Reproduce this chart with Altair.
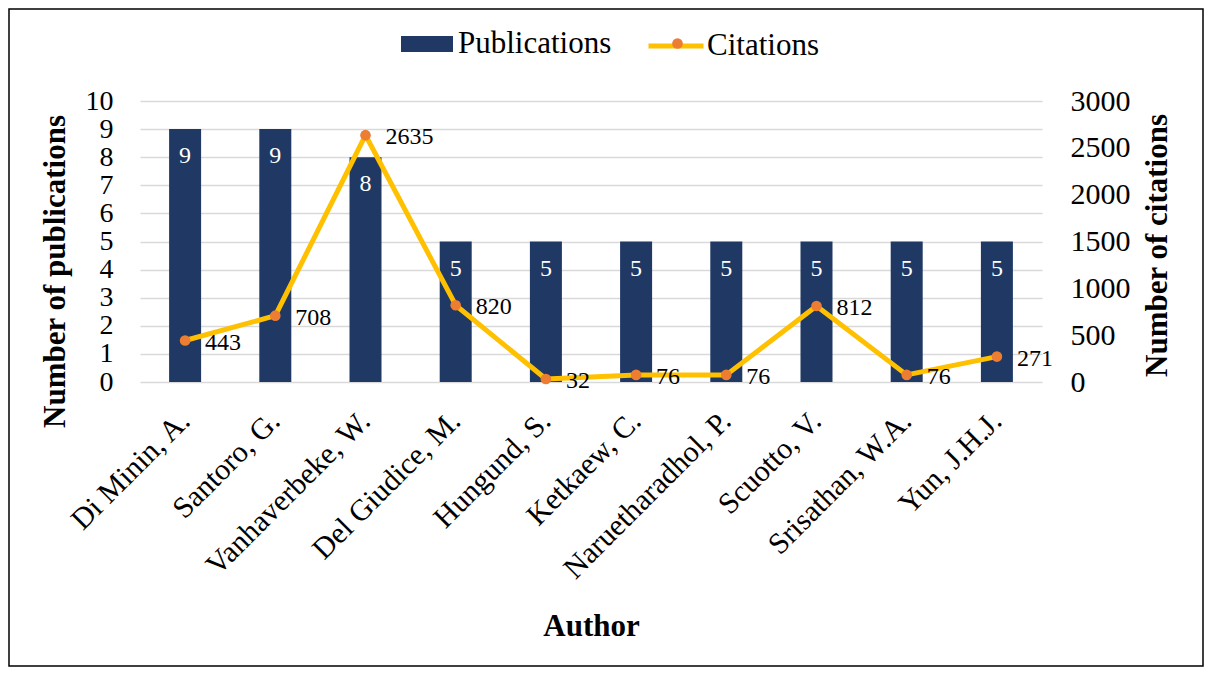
import altair as alt
import pandas as pd

authors = ["Di Minin, A.", "Santoro, G.", "Vanhaverbeke, W.", "Del Giudice, M.",
           "Hungund, S.", "Ketkaew, C.", "Naruetharadhol, P.", "Scuotto, V.",
           "Srisathan, W.A.", "Yun, J.H.J."]
publications = [9, 9, 8, 5, 5, 5, 5, 5, 5, 5]
citations = [443, 708, 2635, 820, 32, 76, 76, 812, 76, 271]
pub_ticks = [0, 1, 2, 3, 4, 5, 6, 7, 8, 9, 10]
cit_ticks = [0, 500, 1000, 1500, 2000, 2500, 3000]

df = pd.DataFrame({"Author": authors, "Publications": publications, "Citations": citations})

FONT = "Liberation Serif"
W, H = 902, 281
PL, PT, PR, PB = 132, 93, 162, 285

x = alt.X("Author:N", sort=authors,
          scale=alt.Scale(paddingInner=0, paddingOuter=0),
          axis=alt.Axis(title="Author", labelAngle=315, labelAlign="right",
                        labelBaseline="middle", labelPadding=34, ticks=False,
                        domain=False, labelFont=FONT, labelFontSize=30,
                        labelColor="black", titleFont=FONT, titleFontSize=31,
                        titleFontWeight="bold", titleColor="black",
                        titleX=W / 2, titleY=244, titleBaseline="middle",
                        titleAlign="center", labelLimit=400))

yl = alt.Y("Publications:Q", scale=alt.Scale(domain=[0, 10], nice=False),
           axis=alt.Axis(title="Number of publications", values=pub_ticks,
                         grid=True, gridColor="#D9D9D9", gridWidth=1.5,
                         domain=False, ticks=False, labelPadding=27,
                         labelOverlap=False, format="d",
                         labelFont=FONT, labelFontSize=28, labelColor="black",
                         titleFont=FONT, titleFontSize=31, titleFontWeight="bold",
                         titleColor="black", titleAngle=270, titleX=-85,
                         titleY=170, titleBaseline="middle", titleAlign="center"))

yr = alt.Y("Citations:Q", scale=alt.Scale(domain=[0, 3000], nice=False),
           axis=alt.Axis(orient="right", title="Number of citations",
                         values=cit_ticks, grid=False, domain=False, ticks=False,
                         labelPadding=28, labelOverlap=False, format="d",
                         labelFont=FONT, labelFontSize=30,
                         labelColor="black", labelAlign="left",
                         titleFont=FONT, titleFontSize=31, titleFontWeight="bold",
                         titleColor="black", titleAngle=270, titleX=115,
                         titleY=144, titleBaseline="middle", titleAlign="center"))

base = alt.Chart(df)

bars = base.transform_calculate(ps="'Publications'").mark_bar(size=32).encode(
    x=x, y=yl,
    fill=alt.Fill("ps:N", scale=alt.Scale(domain=["Publications"], range=["#1F3864"]),
                  legend=alt.Legend(title=None, orient="none", legendX=261, legendY=-83,
                                    symbolType="M-1,-0.3077H1V0.3077H-1Z",
                                    symbolSize=2704, symbolStrokeWidth=0,
                                    labelFont=FONT, labelFontSize=31,
                                    labelColor="black", labelOffset=5, padding=0)))

btext = base.mark_text(color="white", font=FONT, fontSize=24, baseline="middle",
                       dy=27).encode(x=x, y=yl, text="Publications:Q")

line = base.transform_calculate(cs="'Citations'").mark_line(
    strokeWidth=5, strokeCap="round", strokeJoin="round").encode(
    x=x, y=yr,
    stroke=alt.Stroke("cs:N", scale=alt.Scale(domain=["Citations"], range=["#FFC000"]),
                      legend=alt.Legend(title=None, orient="none", legendX=506, legendY=-85,
                                        symbolType="stroke", symbolSize=3025,
                                        symbolStrokeWidth=5, labelFont=FONT,
                                        labelFontSize=31, labelColor="black",
                                        labelOffset=1, padding=0)))

points = base.transform_calculate(cp="'Citations_pt'").mark_circle(
    size=113, opacity=1).encode(
    x=x, y=yr,
    color=alt.Color("cp:N", scale=alt.Scale(domain=["Citations_pt"], range=["#ED7D31"]),
                    legend=alt.Legend(title=None, orient="none", legendX=522, legendY=-73,
                                      symbolType="circle", symbolSize=113,
                                      symbolStrokeWidth=0, labelExpr="''",
                                      labelFontSize=31, padding=0)))

ctext = base.mark_text(align="left", baseline="middle", dx=20, dy=2, font=FONT,
                       fontSize=24, color="black").encode(
    x=x, y=yr, text="Citations:Q")

border = alt.Chart(pd.DataFrame({"k": [0]})).mark_rect(
    fillOpacity=0, stroke="black", strokeWidth=1.5).encode(
    x=alt.value(-PL + 1), x2=alt.value(W + PR - 1),
    y=alt.value(-PT + 1), y2=alt.value(H + PB - 1))

chart = alt.layer(
    alt.layer(bars, btext),
    alt.layer(line, points, ctext),
    border,
).resolve_scale(y="independent").properties(
    width=W, height=H,
    autosize=alt.AutoSizeParams(type="none"),
    padding={"left": PL, "top": PT, "right": PR, "bottom": PB},
    background="white",
).configure(font=FONT).configure_text(font=FONT).configure_axis(
    labelFont=FONT, titleFont=FONT
).configure_legend(labelFont=FONT).configure_view(stroke="transparent")

chart.save("out.html", embed_options={"renderer": "svg", "actions": False})
